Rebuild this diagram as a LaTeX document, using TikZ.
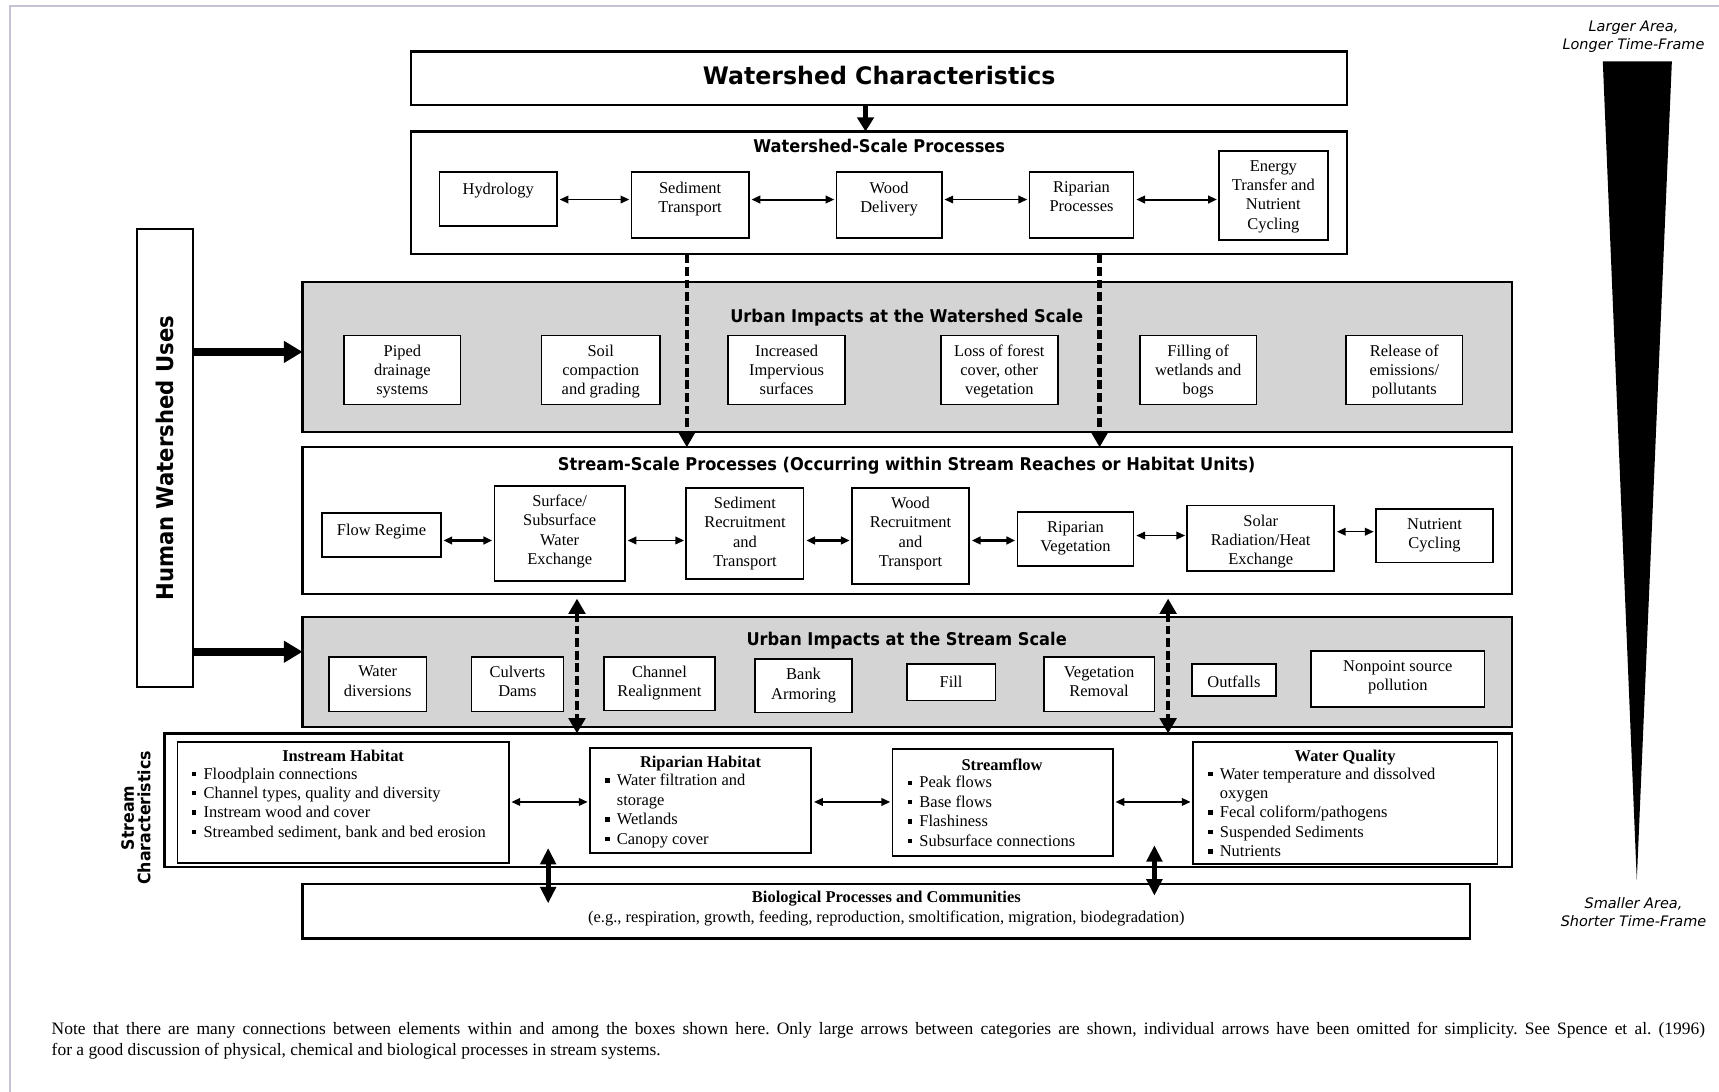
\documentclass[tikz,border=0pt]{standalone}
\usepackage{fontspec}
\usepackage{graphicx}
\setmainfont{Liberation Serif}
\newfontfamily\dvsans{DejaVu Sans}[ItalicFont={DejaVu Sans Oblique},BoldFont={DejaVu Sans Bold}]
\usetikzlibrary{arrows.meta,calc}
\definecolor{gfill}{RGB}{212,212,212}
\definecolor{pageline}{RGB}{196,196,210}
\newcommand\fsz[2]{\fontsize{#1}{#2}\selectfont}
\newcommand\bul{\makebox[10.5pt][l]{\rule[2.8pt]{4pt}{4pt}}}
\newcommand\obx[6]{\node[#1, minimum width={#5pt-#3pt}, minimum height={#6pt-#4pt}] (#2) at ({(#3+#5)/2},{(#4+#6)/2}) {};}
\newcommand\pbox[6]{\obx{ibox}{#1}{#2}{#3}{#4}{#5}\node[itext] (#1-t) at ([yshift=-8.5pt]#1.north) {#6};}
\tikzset{
 obox/.style={draw, line width=2pt, inner sep=0pt, outer sep=0pt},
 gbox/.style={obox, fill=gfill},
 ibox/.style={draw, fill=white, line width=1.6pt, inner sep=0pt, outer sep=0pt},
 itext/.style={anchor=north, inner sep=0pt, align=center, font=\fsz{15}{17.5}, execute at begin node={\rule{0pt}{12pt}}},
 ttl/.style={anchor=base, inner sep=0pt, font=\dvsans\bfseries\fsz{16}{16}},
 ltitle/.style={anchor=base, inner sep=0pt, font=\bfseries\fsz{15}{17.7}},
 bullist/.style={anchor=north west, inner sep=0pt, align=left, font=\fsz{15}{17.7}, execute at begin node={\rule{0pt}{12pt}}},
 sidelab/.style={anchor=north, inner sep=0pt, align=center, font=\dvsans\itshape\fsz{13.2}{16.7}, execute at begin node={\rule{0pt}{10pt}}},
 thinarr/.style={line width=1.4pt, {Triangle[length=8pt,width=7pt]}-{Triangle[length=8pt,width=7pt]}, shorten <=2.5pt, shorten >=2pt},
 dasharr/.style={line width=4pt, dash pattern=on 8pt off 3.5pt, -{Triangle[length=14pt,width=15pt]}},
 dashdbl/.style={line width=4pt, dash pattern=on 8pt off 3.5pt, {Triangle[length=14pt,width=15pt]}-{Triangle[length=14pt,width=15pt]}},
 fatarr/.style={line width=7.5pt, -{Triangle[length=17pt,width=19pt]}},
 bioarr/.style={line width=4.5pt, {Triangle[length=15pt,width=14pt]}-{Triangle[length=15pt,width=14pt]}},
 wcarr/.style={line width=4pt, -{Triangle[length=13pt,width=15pt]}}
}
\begin{document}
\frenchspacing
\begin{tikzpicture}[x=1pt,y=-1pt]
\useasboundingbox (0,0) rectangle (1568,996);
\fill[white] (0,0) rectangle (1568,996);
\draw[pageline, line width=2pt] (9,996) -- (9,5.5) -- (1568,5.5);

% row / column helpers
\coordinate (r1) at (0,182);
\coordinate (r2a) at (0,493);
\coordinate (r2b) at (0,488.5);
\coordinate (r2c) at (0,485);
\coordinate (r3) at (0,731.5);
\coordinate (h1) at (0,321);
\coordinate (h2) at (0,594.5);
\coordinate (xwc) at (789.5,0);
\coordinate (xd1) at (626.5,0);
\coordinate (xd2) at (1003,0);
\coordinate (xd3) at (526.3,0);
\coordinate (xd4) at (1065.5,0);
\coordinate (xb1) at (500,0);
\coordinate (xb2) at (1053,0);

% ---------- Watershed Characteristics
\obx{obox}{wc}{375}{47}{1229}{96}
\node[ttl, font=\dvsans\bfseries\fsz{22}{22}] (wc-t) at (802,77.5) {\scalebox{0.98}[1]{Watershed Characteristics}};

% ---------- Watershed-scale processes
\obx{obox}{wsp}{375}{120}{1229}{232}
\node[ttl] (wsp-t) at (802,139) {\scalebox{0.925}[1]{Watershed-Scale Processes}};
\pbox{hyd}{401}{157}{508}{206}{Hydrology}
\pbox{sedt}{576}{157}{683}{217}{Sediment\\Transport}
\pbox{wood}{763}{157}{859}{217}{Wood\\Delivery}
\pbox{ripp}{939}{157}{1034}{217}{Riparian\\Processes}
\pbox{energy}{1112}{138}{1211}{219}{Energy\\Transfer and\\Nutrient\\Cycling}

% ---------- Urban impacts watershed scale
\obx{gbox}{uiws}{276}{257}{1379}{394}
\node[ttl] (uiws-t) at (827,294.5) {\scalebox{0.925}[1]{Urban Impacts at the Watershed Scale}};
\pbox{piped}{314}{306}{420}{369}{Piped\\drainage\\systems}
\pbox{soil}{494}{306}{602}{369}{Soil\\compaction\\and grading}
\pbox{imperv}{664}{306}{771}{369}{Increased\\Impervious\\surfaces}
\pbox{forest}{858}{306}{965}{369}{Loss of forest\\cover, other\\vegetation}
\pbox{filling}{1040}{306}{1146}{369}{Filling of\\wetlands and\\bogs}
\pbox{release}{1228}{306}{1334}{369}{Release of\\emissions/\\pollutants}

% ---------- Stream-scale processes
\obx{obox}{ssp}{276}{408}{1379}{542}
\node[ttl] (ssp-t) at (827,429) {\scalebox{0.925}[1]{Stream-Scale Processes (Occurring within Stream Reaches or Habitat Units)}};
\pbox{flow}{294}{468}{402}{508}{Flow Regime}
\pbox{surf}{451}{443}{570}{530}{Surface/\\Subsurface\\Water\\Exchange}
\pbox{sedr}{626}{445}{733}{528}{Sediment\\Recruitment\\and\\Transport}
\pbox{woodr}{777}{445}{884}{533}{Wood\\Recruitment\\and\\Transport}
\pbox{ripv}{928}{467}{1034}{516}{Riparian\\Vegetation}
\pbox{solar}{1083}{461}{1217}{521}{Solar\\Radiation/Heat\\Exchange}
\pbox{nutr}{1255}{464}{1362}{513}{Nutrient\\Cycling}

% ---------- Urban impacts stream scale
\obx{gbox}{uiss}{276}{563}{1379}{663}
\node[ttl] (uiss-t) at (827,588.5) {\scalebox{0.925}[1]{Urban Impacts at the Stream Scale}};
\pbox{waterd}{300}{599}{389}{649}{Water\\diversions}
\pbox{culv}{430}{599}{514}{649}{Culverts\\Dams}
\pbox{chan}{551}{599}{652}{648}{Channel\\Realignment}
\pbox{bank}{689}{601}{777}{650}{Bank\\Armoring}
\pbox{fill}{827}{606}{908}{639}{Fill}
\pbox{veg}{952}{599}{1053}{649}{Vegetation\\Removal}
\pbox{outf}{1087}{606}{1164}{635}{Outfalls}
\pbox{nonpt}{1196}{594}{1354}{645}{Nonpoint source\\pollution}

% ---------- Human watershed uses
\obx{obox}{hwu}{125}{209}{176}{627}
\node[rotate=90, inner sep=0pt, font=\dvsans\bfseries\fsz{21}{21}] (hwu-t) at (150.5,418) {\scalebox{0.92}[1]{Human Watershed Uses}};

% ---------- Stream characteristics
\obx{obox}{sc}{150}{669}{1379}{791}
\node[rotate=90, inner sep=0pt, align=center, font=\dvsans\bfseries\fsz{15.5}{15}] (sc-t) at (124,746) {\scalebox{0.93}[1]{Stream}\\\scalebox{0.93}[1]{Characteristics}};
\obx{ibox}{ih}{162}{677}{464}{787}
\node[ltitle] (ih-t) at (313,694.5) {Instream Habitat};
\node[bullist] (ih-l) at (175,700) {\bul Floodplain connections\\\bul Channel types, quality and diversity\\\bul Instream wood and cover\\\bul Streambed sediment, bank and bed erosion};
\obx{ibox}{rh}{538}{682}{740}{778}
\node[ltitle] (rh-t) at (639,700) {Riparian Habitat};
\node[bullist] (rh-l) at (552,706) {\bul Water filtration and\\\hspace*{10.5pt}storage\\\bul Wetlands\\\bul Canopy cover};
\obx{ibox}{sf}{814}{683}{1015}{781}
\node[ltitle] (sf-t) at (914,702.5) {Streamflow};
\node[bullist] (sf-l) at (828,708) {\bul Peak flows\\\bul Base flows\\\bul Flashiness\\\bul Subsurface connections};
\obx{ibox}{wq}{1088}{677}{1366}{788}
\node[ltitle] (wq-t) at (1227,695) {Water Quality};
\node[bullist] (wq-l) at (1102,700) {\bul Water temperature and dissolved\\\hspace*{10.5pt}oxygen\\\bul Fecal coliform/pathogens\\\bul Suspended Sediments\\\bul Nutrients};

% ---------- Biological processes
\obx{obox}{bio}{276}{806}{1341}{856}
\node[anchor=north, inner sep=0pt, align=center, font=\fsz{15}{18}, execute at begin node={\rule{0pt}{12pt}}] (bio-t) at ([yshift=-7pt]bio.north) {\textbf{Biological Processes and Communities}\\(e.g., respiration, growth, feeding, reproduction, smoltification, migration, biodegradation)};

% ---------- connectors
\draw[wcarr] (wc.south -| xwc) -- (wsp.north -| xwc);
\draw[thinarr] (hyd.east |- r1) -- (sedt.west |- r1);
\draw[thinarr, line width=1.8pt] (sedt.east |- r1) -- (wood.west |- r1);
\draw[thinarr] (wood.east |- r1) -- (ripp.west |- r1);
\draw[thinarr, line width=1.8pt] (ripp.east |- r1) -- (energy.west |- r1);

\draw[thinarr, line width=2pt] (flow.east |- r2a) -- (surf.west |- r2a);
\draw[thinarr] (surf.east |- r2a) -- (sedr.west |- r2a);
\draw[thinarr, line width=2pt] (sedr.east |- r2a) -- (woodr.west |- r2a);
\draw[thinarr, line width=2pt] (woodr.east |- r2a) -- (ripv.west |- r2a);
\draw[thinarr] (ripv.east |- r2b) -- (solar.west |- r2b);
\draw[thinarr] (solar.east |- r2c) -- (nutr.west |- r2c);

\draw[thinarr] (ih.east |- r3) -- (rh.west |- r3);
\draw[thinarr] (rh.east |- r3) -- (sf.west |- r3);
\draw[thinarr] (sf.east |- r3) -- (wq.west |- r3);

\draw[dasharr] (wsp.south -| xd1) -- (ssp.north -| xd1);
\draw[dasharr] (wsp.south -| xd2) -- (ssp.north -| xd2);
\draw[dashdbl] ($(ssp.south -| xd3)+(0,4)$) -- (sc.north -| xd3);
\draw[dashdbl] ($(ssp.south -| xd4)+(0,4)$) -- (sc.north -| xd4);

\draw[fatarr] (hwu.east |- h1) -- (uiws.west |- h1);
\draw[fatarr] (hwu.east |- h2) -- (uiss.west |- h2);

\draw[bioarr] ($(sc.south -| xb1)+(0,-17.5)$) -- ($(bio.north -| xb1)+(0,18)$);
\draw[bioarr] ($(sc.south -| xb2)+(0,-20)$) -- ($(bio.north -| xb2)+(0,11)$);

% ---------- scale wedge
\fill (1462,56) -- (1525,56) -- (1493,803) -- cycle;
\node[sidelab] (lab-top) at (1490,19) {Larger Area,\\Longer Time-Frame};
\node[sidelab] (lab-bot) at (1490,818) {Smaller Area,\\Shorter Time-Frame};

% ---------- footnote
\node[anchor=north west, inner sep=0pt, text width=1508pt, align=justify, font=\fsz{15.9}{19.5}] (note) at (47,929.4) {\strut Note that there are many connections between elements within and among the boxes shown here. Only large arrows between categories are shown, individual arrows have been omitted for simplicity. See Spence et al. (1996)\linebreak for a good discussion of physical, chemical and biological processes in stream systems.};
\end{tikzpicture}
\end{document}
